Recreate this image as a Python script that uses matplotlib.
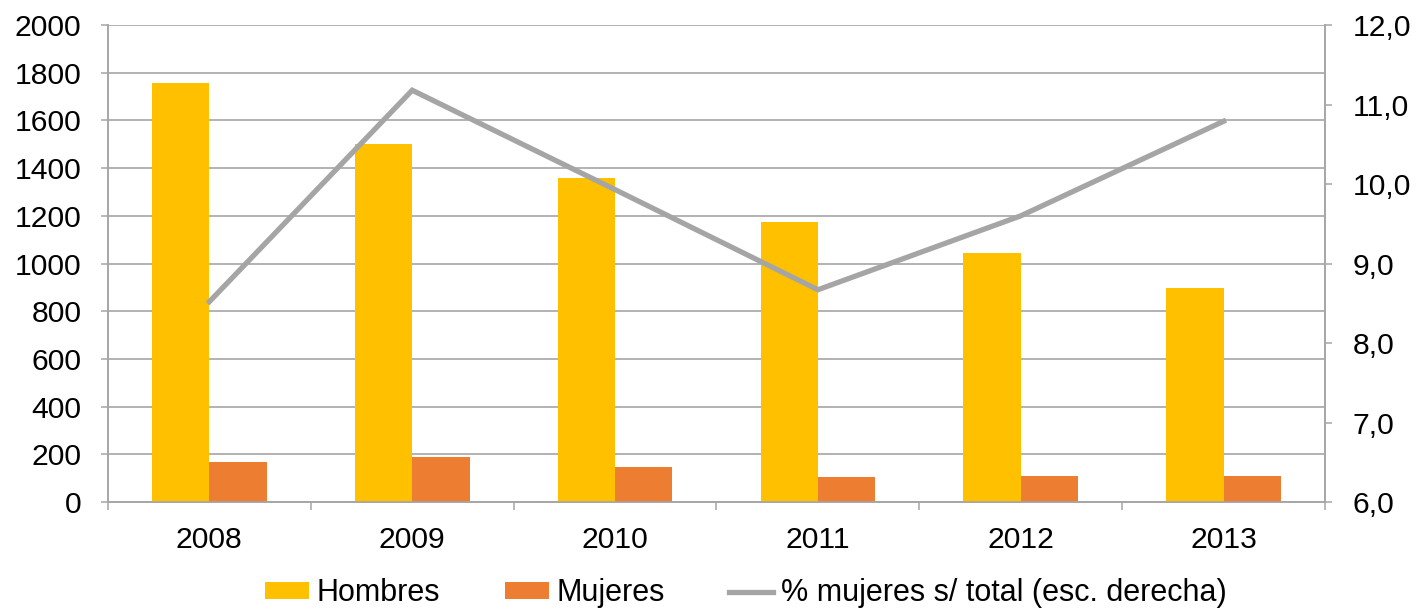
import matplotlib.pyplot as plt
import numpy as np
from matplotlib.ticker import FuncFormatter, MultipleLocator


YEARS = ["2008", "2009", "2010", "2011", "2012", "2013"]
HOMBRES = [1755, 1500, 1360, 1173, 1045, 896]
MUJERES = [166, 187, 147, 106, 108, 108]
PCT_MUJERES = [8.52, 11.18, 9.93, 8.67, 9.60, 10.79]

COLOR_HOMBRES = "#FFC000"
COLOR_MUJERES = "#ED7D31"
COLOR_LINE = "#A5A5A5"
COLOR_GRID = "#A6A6A6"


def main():
	plt.rcParams["font.family"] = ["Liberation Sans", "DejaVu Sans"]
	plt.rcParams["font.size"] = 21.7

	fig = plt.figure(figsize=(14.26, 6.11), dpi=100)
	ax = fig.add_axes([0.0757, 0.1784, 0.8535, 0.7806])
	ax2 = ax.twinx()

	x = np.arange(len(YEARS))
	bar_width = 0.283
	ax.bar(x - bar_width / 2, HOMBRES, width=bar_width, color=COLOR_HOMBRES, label="Hombres", zorder=3)
	ax.bar(x + bar_width / 2, MUJERES, width=bar_width, color=COLOR_MUJERES, label="Mujeres", zorder=3)
	ax2.plot(x, PCT_MUJERES, color=COLOR_LINE, linewidth=3.8, solid_joinstyle="miter",
		label="% mujeres s/ total (esc. derecha)", zorder=4)

	ax.set_xlim(-0.5, len(YEARS) - 0.5)
	ax.set_ylim(0, 2000)
	ax.yaxis.set_major_locator(MultipleLocator(200))
	ax2.set_ylim(6, 12)
	ax2.yaxis.set_major_locator(MultipleLocator(1))
	ax2.yaxis.set_major_formatter(FuncFormatter(lambda v, _: f"{v:.1f}".replace(".", ",")))

	ax.set_xticks(x)
	ax.set_xticklabels(YEARS)
	ax.set_xticks(np.arange(-0.5, len(YEARS)), minor=True)
	ax.tick_params(axis="x", which="major", length=0, pad=17)
	ax.tick_params(axis="x", which="minor", length=6, width=1.1, color=COLOR_GRID)
	ax.tick_params(axis="y", length=5, width=1.1, color=COLOR_GRID, pad=14)
	ax2.tick_params(axis="y", length=5, width=1.1, color=COLOR_GRID, pad=15)

	ax.grid(True, axis="y", color=COLOR_GRID, linewidth=1.2, zorder=0)
	ax.set_axisbelow(True)
	for axis in (ax, ax2):
		axis.spines["top"].set_visible(False)
		for side in ("left", "right", "bottom"):
			axis.spines[side].set_color(COLOR_GRID)
			axis.spines[side].set_linewidth(1.2)

	handles1, labels1 = ax.get_legend_handles_labels()
	handles2, labels2 = ax2.get_legend_handles_labels()
	fig.legend(handles1 + handles2, labels1 + labels2, loc="center", bbox_to_anchor=(0.523, 0.029),
		ncol=3, frameon=False, handlelength=1.45, handleheight=0.5, handletextpad=0.25,
		columnspacing=2.1, fontsize=22)

	fig.savefig("out.png", dpi=100)
	plt.close(fig)


if __name__ == "__main__":
	main()
